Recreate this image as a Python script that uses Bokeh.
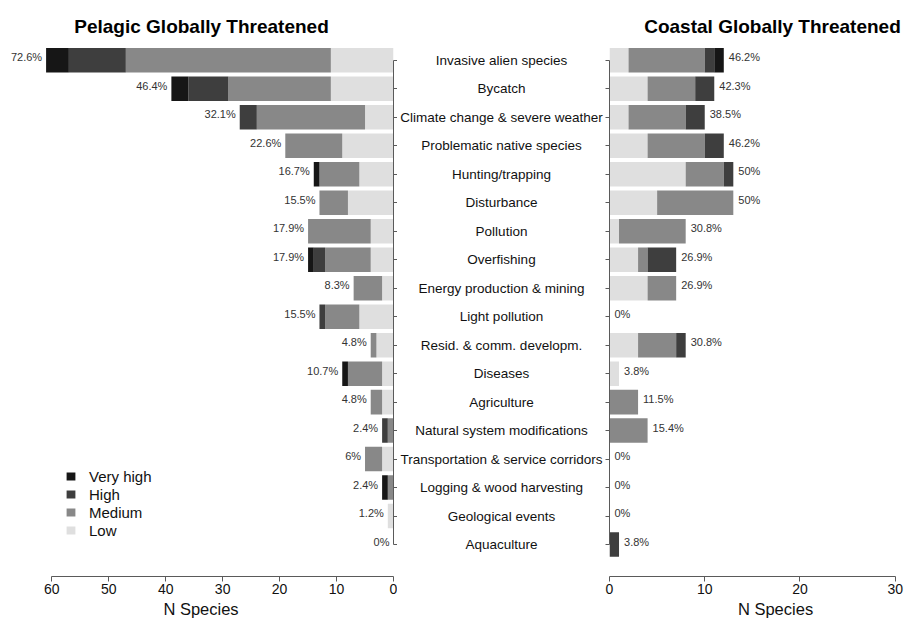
from bokeh.plotting import figure
from bokeh.models import ColumnDataSource, Range1d, FixedTicker, Legend, LegendItem, Label
from bokeh.layouts import row
from bokeh.embed import file_html
from bokeh.resources import INLINE
from bokeh.core.properties import value

# ---------------- data ----------------
categories = [
    "Invasive alien species", "Bycatch", "Climate change & severe weather",
    "Problematic native species", "Hunting/trapping", "Disturbance", "Pollution",
    "Overfishing", "Energy production & mining", "Light pollution",
    "Resid. & comm. developm.", "Diseases", "Agriculture",
    "Natural system modifications", "Transportation & service corridors",
    "Logging & wood harvesting", "Geological events", "Aquaculture",
]
levels = ["Very high", "High", "Medium", "Low"]

pel_low      = [11, 11, 5, 9, 6, 8, 4, 4, 2, 6, 3, 2, 2, 0, 2, 0, 1, 0]
pel_medium   = [36, 18, 19, 10, 7, 5, 11, 8, 5, 6, 1, 6, 2, 1, 3, 1, 0, 0]
pel_high     = [10, 7, 3, 0, 0, 0, 0, 2, 0, 1, 0, 0, 0, 1, 0, 0, 0, 0]
pel_veryhigh = [4, 3, 0, 0, 1, 0, 0, 1, 0, 0, 0, 1, 0, 0, 0, 1, 0, 0]
pel_pct = ["72.6%", "46.4%", "32.1%", "22.6%", "16.7%", "15.5%", "17.9%", "17.9%",
           "8.3%", "15.5%", "4.8%", "10.7%", "4.8%", "2.4%", "6%", "2.4%", "1.2%", "0%"]

coa_low      = [2, 4, 2, 4, 8, 5, 1, 3, 4, 0, 3, 1, 0, 0, 0, 0, 0, 0]
coa_medium   = [8, 5, 6, 6, 4, 8, 7, 1, 3, 0, 4, 0, 3, 4, 0, 0, 0, 0]
coa_high     = [1, 2, 2, 2, 1, 0, 0, 3, 0, 0, 1, 0, 0, 0, 0, 0, 0, 1]
coa_veryhigh = [1, 0, 0, 0, 0, 0, 0, 0, 0, 0, 0, 0, 0, 0, 0, 0, 0, 0]
coa_pct = ["46.2%", "42.3%", "38.5%", "46.2%", "50%", "50%", "30.8%", "26.9%",
           "26.9%", "0%", "30.8%", "3.8%", "11.5%", "15.4%", "0%", "0%", "0%", "3.8%"]

left_ticks = [0, 10, 20, 30, 40, 50, 60]
right_ticks = [0, 10, 20, 30]

# ---------------- style ----------------
FONT = "Liberation Sans"
COLORS = {"Very high": "#161616", "High": "#3e3e3e", "Medium": "#888888", "Low": "#dfdfdf"}
AX = "#5a5a5a"
FRAME_H = 568
TOP = 8
rows_idx = list(range(len(categories)))


def make_source(low, med, high, vh, pct):
    total = [a + b + c + d for a, b, c, d in zip(low, med, high, vh)]
    return ColumnDataSource(dict(y=rows_idx, cat=categories, Low=low, Medium=med,
                                 High=high, VeryHigh=vh, total=total, pct=pct))


def style_bottom_axis(p, ticks, label):
    ax = p.xaxis[0]
    ax.ticker = FixedTicker(ticks=ticks)
    ax.bounds = (min(ticks), max(ticks))
    ax.axis_label = label
    ax.axis_label_text_font = FONT
    ax.axis_label_text_font_style = "normal"
    ax.axis_label_text_font_size = "16.5px"
    ax.axis_label_text_color = "#111111"
    ax.axis_label_standoff = 3
    ax.major_label_text_font = FONT
    ax.major_label_text_font_size = "14px"
    ax.major_label_text_color = "#111111"
    ax.major_label_standoff = 2
    ax.major_tick_in = 0
    ax.major_tick_out = 5
    ax.minor_tick_line_color = None
    ax.axis_line_color = AX
    ax.major_tick_line_color = AX


def style_side_axis(p):
    ax = p.yaxis[0]
    ax.ticker = FixedTicker(ticks=rows_idx)
    ax.bounds = (rows_idx[0], rows_idx[-1])
    ax.major_label_text_font_size = "0px"
    ax.major_label_text_color = None
    ax.major_label_standoff = 0
    ax.major_tick_in = 0
    ax.major_tick_out = 4
    ax.minor_tick_line_color = None
    ax.axis_line_color = AX
    ax.major_tick_line_color = AX


def common(p):
    p.xgrid.visible = False
    p.ygrid.visible = False
    p.outline_line_color = None
    p.background_fill_color = "white"
    p.border_fill_color = "white"


y_range_args = dict(start=18.12, end=-1.815)
stackers = ["Low", "Medium", "High", "VeryHigh"]
stack_colors = [COLORS["Low"], COLORS["Medium"], COLORS["High"], COLORS["Very high"]]

# ---------------- left (pelagic) ----------------
src_p = make_source(pel_low, pel_medium, pel_high, pel_veryhigh, pel_pct)
pl = figure(frame_width=385, frame_height=FRAME_H, x_range=Range1d(67.6, 0),
            y_range=Range1d(**y_range_args), y_axis_location="right",
            output_backend="svg", toolbar_location=None, tools="",
            min_border=0, min_border_left=8, min_border_right=4, min_border_top=TOP)
common(pl)
rl = pl.hbar_stack(stackers, y="y", height=0.86, color=stack_colors, line_color=None, source=src_p)
pl.text(x="total", y="y", text="pct", source=src_p, text_align="right", text_baseline="middle",
        x_offset=-4, y_offset=-3, text_font=value(FONT), text_font_size="11px", text_color="#333333")
style_bottom_axis(pl, left_ticks, "N Species")
style_side_axis(pl)

by_name = dict(zip(stackers, rl))
legend = Legend(items=[LegendItem(label=levels[0], renderers=[by_name["VeryHigh"]]),
                       LegendItem(label=levels[1], renderers=[by_name["High"]]),
                       LegendItem(label=levels[2], renderers=[by_name["Medium"]]),
                       LegendItem(label=levels[3], renderers=[by_name["Low"]])],
                location=(57, 37), orientation="vertical")
legend.background_fill_alpha = 0
legend.border_line_color = None
legend.padding = 0
legend.margin = 0
legend.spacing = 0
legend.glyph_width = 11
legend.glyph_height = 10
legend.label_standoff = 13
legend.label_height = 18
legend.label_text_font = FONT
legend.label_text_font_size = "15px"
legend.label_text_color = "#111111"
pl.add_layout(legend)

pl.add_layout(Label(x=193, y=550, x_units="screen", y_units="screen",
                    text="Pelagic Globally Threatened", text_align="center",
                    text_baseline="alphabetic", text_font=FONT, text_font_size="19px",
                    text_font_style="bold", text_color="#000000"))

# ---------------- middle (category labels) ----------------
pm = figure(frame_width=208, frame_height=FRAME_H, x_range=Range1d(0, 1),
            y_range=Range1d(**y_range_args), x_axis_location=None, y_axis_location=None,
            output_backend="svg", toolbar_location=None, tools="",
            min_border=0, min_border_top=TOP)
common(pm)
pm.text(x=0.5, y="y", text="cat", source=src_p, text_align="center", text_baseline="middle",
        text_font=value(FONT), text_font_size="13.5px", text_color="#111111")

# ---------------- right (coastal) ----------------
src_c = make_source(coa_low, coa_medium, coa_high, coa_veryhigh, coa_pct)
pr = figure(frame_width=300, frame_height=FRAME_H, x_range=Range1d(0, 31.5),
            y_range=Range1d(**y_range_args), y_axis_location="left",
            output_backend="svg", toolbar_location=None, tools="",
            min_border=0, min_border_left=4, min_border_right=0, min_border_top=TOP)
common(pr)
pr.hbar_stack(stackers, y="y", height=0.86, color=stack_colors, line_color=None, source=src_c)
pr.text(x="total", y="y", text="pct", source=src_c, text_align="left", text_baseline="middle",
        x_offset=5, y_offset=-3, text_font=value(FONT), text_font_size="11px", text_color="#333333")
# non-breaking spaces nudge the centred axis title to the right, as in the original
style_bottom_axis(pr, right_ticks, "\u00a0" * 7 + "N Species")
style_side_axis(pr)
pr.add_layout(Label(x=163, y=550, x_units="screen", y_units="screen",
                    text="Coastal Globally Threatened", text_align="center",
                    text_baseline="alphabetic", text_font=FONT, text_font_size="19px",
                    text_font_style="bold", text_color="#000000"))

layout = row(pl, pm, pr)
open("out.html", "w").write(file_html(layout, INLINE))
